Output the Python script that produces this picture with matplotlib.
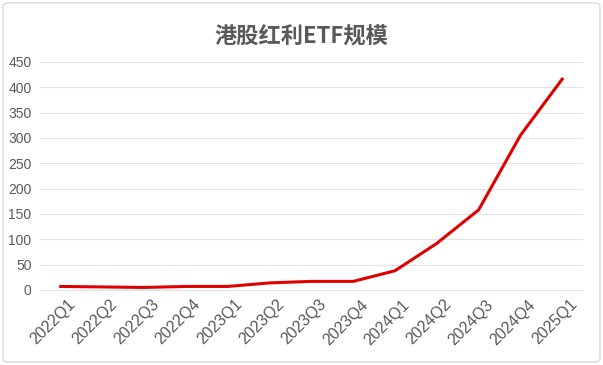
import matplotlib.pyplot as plt
import matplotlib.transforms as mtransforms
from matplotlib.patches import FancyBboxPatch

plt.rcParams['font.family'] = ['Liberation Sans', 'Noto Sans CJK SC', 'DejaVu Sans']

# 港股红利ETF规模 by quarter
quarters = ['2022Q1', '2022Q2', '2022Q3', '2022Q4', '2023Q1', '2023Q2', '2023Q3',
            '2023Q4', '2024Q1', '2024Q2', '2024Q3', '2024Q4', '2025Q1']
scale = [7, 6, 5, 7, 7, 14, 17, 17, 38, 92, 158, 305, 416]

fig = plt.figure(figsize=(6.03, 3.65), dpi=100)
ax = fig.add_axes([0.066, 0.2055, 0.901, 0.625])

x = range(len(quarters))
ax.plot(x, scale, color='#e00000', linewidth=2.2, solid_joinstyle='round')

ax.set_xlim(-0.5, len(quarters) - 0.5)
ax.set_ylim(0, 450)
ax.set_yticks(range(0, 451, 50))
ax.set_xticks(list(x))
ax.set_xticklabels(quarters, rotation=45, ha='right', rotation_mode='anchor')
ax.tick_params(colors='#595959', labelsize=10, length=0, pad=6)
ax.tick_params(axis='x', labelsize=11.5, pad=5)
# nudge rotated labels right so their ends sit just past the tick
shift = mtransforms.ScaledTranslation(7 / 100, 0, fig.dpi_scale_trans)
for lbl in ax.get_xticklabels():
    lbl.set_transform(lbl.get_transform() + shift)
ax.grid(axis='y', color='#e3e3e3', linewidth=0.8)
ax.set_axisbelow(True)
for s in ax.spines.values():
    s.set_visible(False)
ax.spines['bottom'].set_visible(True)
ax.spines['bottom'].set_color('#e3e3e3')

fig.text(0.5, 0.898, '港股红利ETF规模', ha='center', va='center', fontsize=16,
         fontweight='bold', color='#595959', family=['Noto Sans CJK SC', 'DejaVu Sans'])

border = FancyBboxPatch((0.005, 0.008), 0.99, 0.984, boxstyle='round,pad=0,rounding_size=0.01',
                        transform=fig.transFigure, facecolor='none', edgecolor='#d9d9d9', linewidth=1)
fig.patches.append(border)

fig.savefig('out.png', dpi=100)
